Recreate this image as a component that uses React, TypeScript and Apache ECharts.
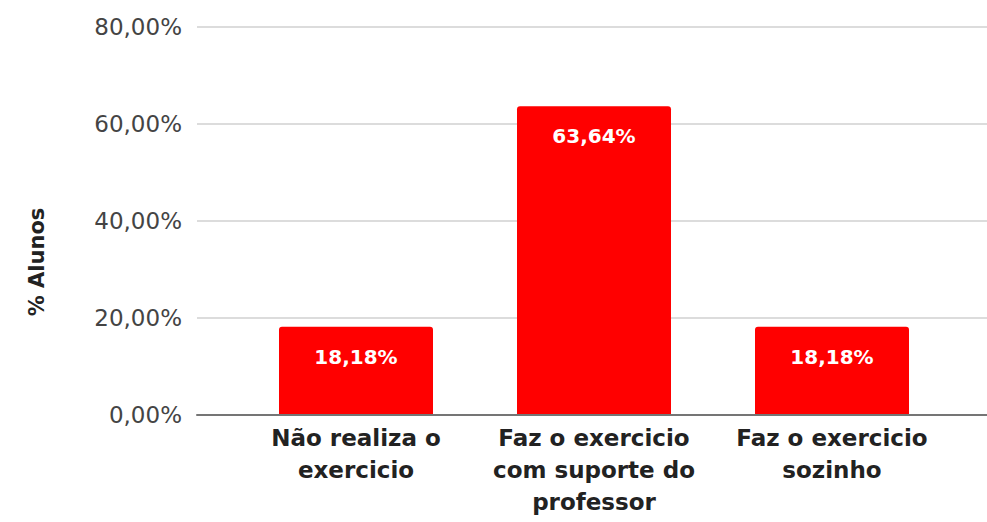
import React, { useEffect, useRef } from "react";
import * as echarts from "echarts";

const categories = [
  "Não realiza o\nexercicio",
  "Faz o exercicio\ncom suporte do\nprofessor",
  "Faz o exercicio\nsozinho",
];
const values = [18.18, 63.64, 18.18];
const yTicks = [0, 20, 40, 60, 80];
const yTitle = "% Alunos";

const fmtPct = (v: number) => v.toFixed(2).replace(".", ",") + "%";

export default function App() {
  const ref = useRef<HTMLDivElement>(null);
  useEffect(() => {
    if (!ref.current) return;
    const chart = echarts.init(ref.current, null, { renderer: "svg" });
    const font = "DejaVu Sans";
    chart.setOption({
      animation: false,
      backgroundColor: "#ffffff",
      grid: [
        { left: 197, right: 0, top: 27, bottom: 107 },
        { left: 237, right: 36, top: 27, bottom: 107 },
      ],
      xAxis: [
        {
          type: "category",
          gridIndex: 0,
          data: [""],
          axisLine: { show: true, lineStyle: { color: "#757575", width: 2 } },
          axisTick: { show: false },
          axisLabel: { show: false },
          z: 5,
        },
        {
          type: "category",
          gridIndex: 1,
          data: categories,
          axisLine: { show: false },
          axisTick: { show: false },
          axisLabel: {
            interval: 0,
            hideOverlap: false,
            margin: 7,
            color: "#222222",
            fontFamily: font,
            fontWeight: "bold",
            fontSize: 23,
            lineHeight: 32,
            align: "center",
          },
        },
      ],
      yAxis: [
        {
          type: "value",
          gridIndex: 0,
          min: yTicks[0],
          max: yTicks[yTicks.length - 1],
          interval: 20,
          axisLine: { show: false },
          axisTick: { show: false },
          splitLine: { show: true, lineStyle: { color: "#dcdcdc", width: 2 } },
          axisLabel: {
            margin: 15,
            color: "#444444",
            fontFamily: font,
            fontSize: 23,
            formatter: (v: number) => fmtPct(v),
          },
        },
        {
          type: "value",
          gridIndex: 1,
          min: yTicks[0],
          max: yTicks[yTicks.length - 1],
          interval: 20,
          show: false,
          splitLine: { show: false },
        },
      ],
      series: [
        {
          type: "bar",
          xAxisIndex: 1,
          yAxisIndex: 1,
          data: values,
          barWidth: 154,
          itemStyle: { color: "#ff0000", borderRadius: [3, 3, 0, 0] },
          label: {
            show: true,
            position: "insideTop",
            distance: 20,
            color: "#ffffff",
            fontFamily: font,
            fontWeight: "bold",
            fontSize: 20,
            formatter: (p: any) => fmtPct(p.value),
          },
        },
      ],
      graphic: [
        {
          type: "text",
          x: 37,
          y: 262,
          rotation: Math.PI / 2,
          style: {
            text: yTitle,
            fill: "#222222",
            font: `bold 21px "${font}"`,
            align: "center",
            verticalAlign: "middle",
          },
        },
      ],
    });
    return () => chart.dispose();
  }, []);
  return <div ref={ref} style={{ width: 987, height: 522, position: "absolute", left: 0, top: 0 }} />;
}
